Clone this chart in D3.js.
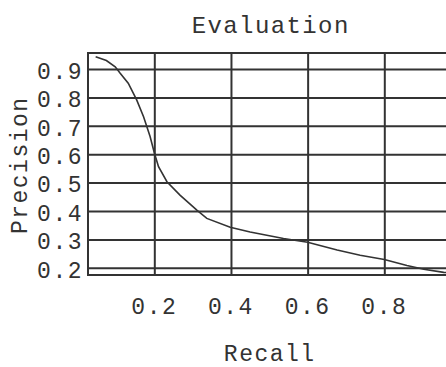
<!DOCTYPE html>
<html>
<head>
<meta charset="utf-8">
<script src="https://cdn.jsdelivr.net/npm/d3@7"></script>
<style>
  body { margin: 0; background: #fff; }
  text { font-family: "Liberation Mono", "Courier New", monospace; fill: #333; }
</style>
</head>
<body>
<svg id="chart" width="446" height="367"></svg>
<script>
// recall / precision
var recall    = [0.047, 0.075, 0.098, 0.111, 0.132, 0.154, 0.172, 0.189, 0.200, 0.211, 0.233, 0.267, 0.311, 0.337, 0.398, 0.450, 0.537, 0.600, 0.677, 0.737, 0.800, 0.859, 0.903, 0.955, 0.990];
var precision = [0.943, 0.930, 0.908, 0.885, 0.850, 0.791, 0.732, 0.662, 0.605, 0.556, 0.503, 0.456, 0.403, 0.374, 0.343, 0.326, 0.303, 0.290, 0.263, 0.244, 0.229, 0.208, 0.195, 0.184, 0.180];
var xTicks = [0.2, 0.4, 0.6, 0.8];
var yTicks = [0.2, 0.3, 0.4, 0.5, 0.6, 0.7, 0.8, 0.9];

var svg = d3.select("#chart");
// plot box (right side runs past the picture edge, like the original crop)
var plotL = 88, plotT = 53, plotR = 470, plotB = 275;
var ink = "#333";
var fs = 23, ls = 1.5;   // mono font, slightly spaced like the original

// x: 0.2 at 154.3, 0.8 at 384.3 ; y: 0.9 at 69, 0.2 at 267.8
var x = d3.scaleLinear().domain([0.2, 0.8]).range([154.3, 384.3]);
var y = d3.scaleLinear().domain([0.2, 0.9]).range([267.8, 69]);

var xAxis = svg.append("g")
  .attr("transform", "translate(0," + plotB + ")")
  .call(d3.axisBottom(x).tickValues(xTicks).tickSize(-(plotB - plotT)).tickPadding(23).tickFormat(d3.format(".1f")));

var yAxis = svg.append("g")
  .attr("transform", "translate(" + plotL + ",0)")
  .call(d3.axisLeft(y).tickValues(yTicks).tickSize(-(plotR - plotL)).tickPadding(5).tickFormat(d3.format(".1f")));

[xAxis, yAxis].forEach(function(a) {
  a.select(".domain").remove();
  a.selectAll("line").attr("stroke", ink).attr("stroke-width", 2);
  a.selectAll("text").attr("font-size", fs).attr("fill", ink)
    .style("letter-spacing", ls + "px")
    .style("font-family", "'Liberation Mono', 'Courier New', monospace");
});
xAxis.selectAll("text").attr("dx", -0.5);
yAxis.selectAll("text").attr("dy", "0.4em");

// frame
svg.append("rect")
  .attr("x", plotL).attr("y", plotT)
  .attr("width", plotR - plotL).attr("height", plotB - plotT)
  .attr("fill", "none").attr("stroke", ink).attr("stroke-width", 2);

// curve
var pts = recall.map(function(r, i) { return [r, precision[i]]; });
svg.append("path")
  .datum(pts)
  .attr("fill", "none")
  .attr("stroke", ink)
  .attr("stroke-width", 1.6)
  .attr("d", d3.line().x(function(d) { return x(d[0]); }).y(function(d) { return y(d[1]); }));

function label(t, tx, ty, rot, size, sp) {
  svg.append("text")
    .attr("transform", "translate(" + tx + "," + ty + ")" + (rot ? " rotate(" + rot + ")" : ""))
    .attr("text-anchor", "middle")
    .attr("font-size", size)
    .attr("dx", sp / 2)
    .style("letter-spacing", sp + "px")
    .text(t);
}
label("Evaluation", 270, 33, 0, 24, 1.4);
label("Recall", 269, 361, 0, fs, ls);
label("Precision", 27, 166, -90, fs, ls);
</script>
</body>
</html>
